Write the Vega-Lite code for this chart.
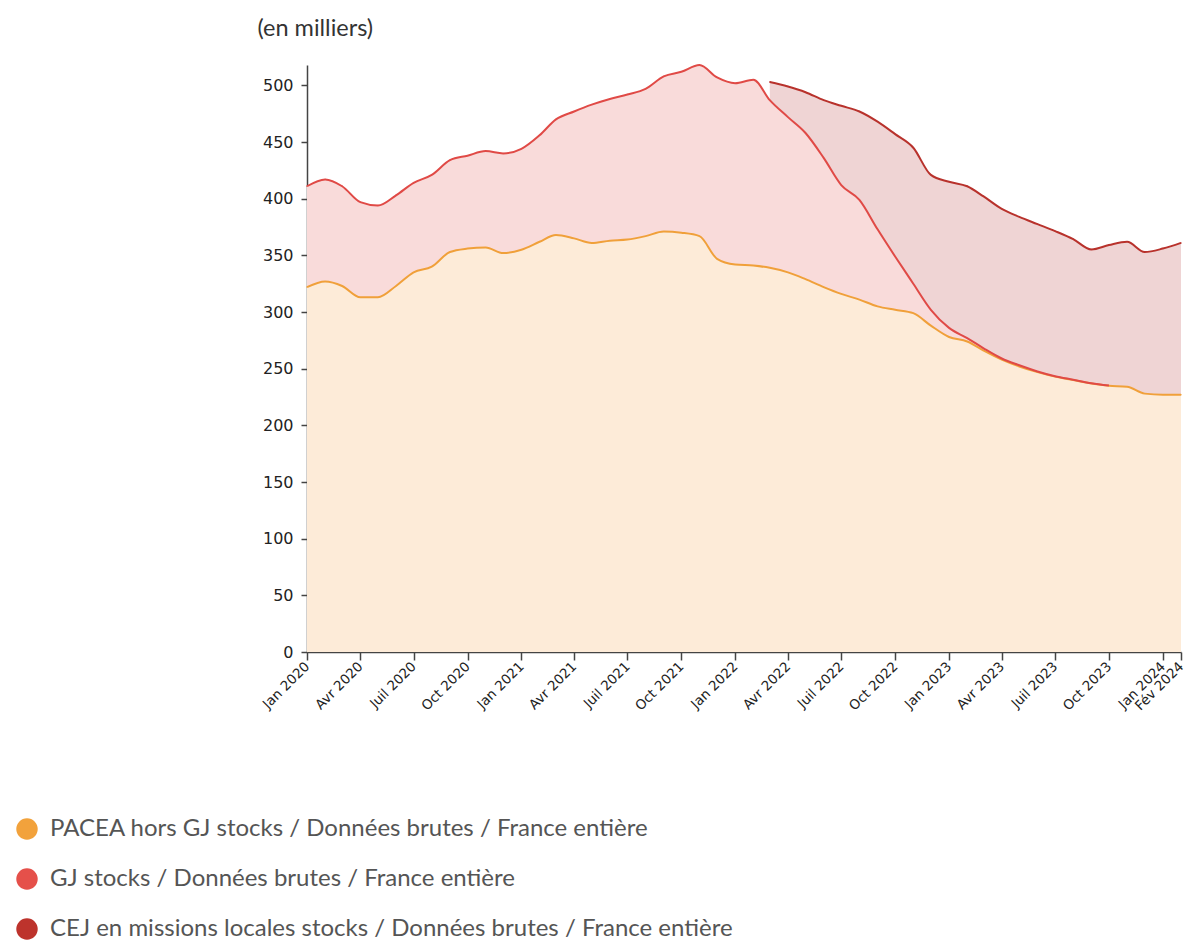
{
  "$schema": "https://vega.github.io/schema/vega-lite/v6.json",
  "width": 874,
  "height": 587,
  "autosize": "none",
  "padding": {"left": 307, "top": 65, "right": 7, "bottom": 291},
  "background": "white",
  "data": {"values": [
    {"mois": "2020-01", "serie": "PACEA hors GJ stocks / Données brutes / France entière", "valeur": 322},
    {"mois": "2020-02", "serie": "PACEA hors GJ stocks / Données brutes / France entière", "valeur": 327},
    {"mois": "2020-03", "serie": "PACEA hors GJ stocks / Données brutes / France entière", "valeur": 323},
    {"mois": "2020-04", "serie": "PACEA hors GJ stocks / Données brutes / France entière", "valeur": 313},
    {"mois": "2020-05", "serie": "PACEA hors GJ stocks / Données brutes / France entière", "valeur": 313},
    {"mois": "2020-06", "serie": "PACEA hors GJ stocks / Données brutes / France entière", "valeur": 323},
    {"mois": "2020-07", "serie": "PACEA hors GJ stocks / Données brutes / France entière", "valeur": 335},
    {"mois": "2020-08", "serie": "PACEA hors GJ stocks / Données brutes / France entière", "valeur": 340},
    {"mois": "2020-09", "serie": "PACEA hors GJ stocks / Données brutes / France entière", "valeur": 353},
    {"mois": "2020-10", "serie": "PACEA hors GJ stocks / Données brutes / France entière", "valeur": 356},
    {"mois": "2020-11", "serie": "PACEA hors GJ stocks / Données brutes / France entière", "valeur": 357},
    {"mois": "2020-12", "serie": "PACEA hors GJ stocks / Données brutes / France entière", "valeur": 352},
    {"mois": "2021-01", "serie": "PACEA hors GJ stocks / Données brutes / France entière", "valeur": 355},
    {"mois": "2021-02", "serie": "PACEA hors GJ stocks / Données brutes / France entière", "valeur": 362},
    {"mois": "2021-03", "serie": "PACEA hors GJ stocks / Données brutes / France entière", "valeur": 368},
    {"mois": "2021-04", "serie": "PACEA hors GJ stocks / Données brutes / France entière", "valeur": 365},
    {"mois": "2021-05", "serie": "PACEA hors GJ stocks / Données brutes / France entière", "valeur": 361},
    {"mois": "2021-06", "serie": "PACEA hors GJ stocks / Données brutes / France entière", "valeur": 363},
    {"mois": "2021-07", "serie": "PACEA hors GJ stocks / Données brutes / France entière", "valeur": 364},
    {"mois": "2021-08", "serie": "PACEA hors GJ stocks / Données brutes / France entière", "valeur": 367},
    {"mois": "2021-09", "serie": "PACEA hors GJ stocks / Données brutes / France entière", "valeur": 371},
    {"mois": "2021-10", "serie": "PACEA hors GJ stocks / Données brutes / France entière", "valeur": 370},
    {"mois": "2021-11", "serie": "PACEA hors GJ stocks / Données brutes / France entière", "valeur": 367},
    {"mois": "2021-12", "serie": "PACEA hors GJ stocks / Données brutes / France entière", "valeur": 347},
    {"mois": "2022-01", "serie": "PACEA hors GJ stocks / Données brutes / France entière", "valeur": 342},
    {"mois": "2022-02", "serie": "PACEA hors GJ stocks / Données brutes / France entière", "valeur": 341},
    {"mois": "2022-03", "serie": "PACEA hors GJ stocks / Données brutes / France entière", "valeur": 339},
    {"mois": "2022-04", "serie": "PACEA hors GJ stocks / Données brutes / France entière", "valeur": 335},
    {"mois": "2022-05", "serie": "PACEA hors GJ stocks / Données brutes / France entière", "valeur": 329},
    {"mois": "2022-06", "serie": "PACEA hors GJ stocks / Données brutes / France entière", "valeur": 322},
    {"mois": "2022-07", "serie": "PACEA hors GJ stocks / Données brutes / France entière", "valeur": 316},
    {"mois": "2022-08", "serie": "PACEA hors GJ stocks / Données brutes / France entière", "valeur": 311},
    {"mois": "2022-09", "serie": "PACEA hors GJ stocks / Données brutes / France entière", "valeur": 305},
    {"mois": "2022-10", "serie": "PACEA hors GJ stocks / Données brutes / France entière", "valeur": 302},
    {"mois": "2022-11", "serie": "PACEA hors GJ stocks / Données brutes / France entière", "valeur": 299},
    {"mois": "2022-12", "serie": "PACEA hors GJ stocks / Données brutes / France entière", "valeur": 288},
    {"mois": "2023-01", "serie": "PACEA hors GJ stocks / Données brutes / France entière", "valeur": 278},
    {"mois": "2023-02", "serie": "PACEA hors GJ stocks / Données brutes / France entière", "valeur": 274},
    {"mois": "2023-03", "serie": "PACEA hors GJ stocks / Données brutes / France entière", "valeur": 266},
    {"mois": "2023-04", "serie": "PACEA hors GJ stocks / Données brutes / France entière", "valeur": 258},
    {"mois": "2023-05", "serie": "PACEA hors GJ stocks / Données brutes / France entière", "valeur": 252},
    {"mois": "2023-06", "serie": "PACEA hors GJ stocks / Données brutes / France entière", "valeur": 247},
    {"mois": "2023-07", "serie": "PACEA hors GJ stocks / Données brutes / France entière", "valeur": 243},
    {"mois": "2023-08", "serie": "PACEA hors GJ stocks / Données brutes / France entière", "valeur": 240},
    {"mois": "2023-09", "serie": "PACEA hors GJ stocks / Données brutes / France entière", "valeur": 237},
    {"mois": "2023-10", "serie": "PACEA hors GJ stocks / Données brutes / France entière", "valeur": 235},
    {"mois": "2023-11", "serie": "PACEA hors GJ stocks / Données brutes / France entière", "valeur": 234},
    {"mois": "2023-12", "serie": "PACEA hors GJ stocks / Données brutes / France entière", "valeur": 228},
    {"mois": "2024-01", "serie": "PACEA hors GJ stocks / Données brutes / France entière", "valeur": 227},
    {"mois": "2024-02", "serie": "PACEA hors GJ stocks / Données brutes / France entière", "valeur": 227},
    {"mois": "2020-01", "serie": "GJ stocks / Données brutes / France entière", "valeur": 89},
    {"mois": "2020-02", "serie": "GJ stocks / Données brutes / France entière", "valeur": 90},
    {"mois": "2020-03", "serie": "GJ stocks / Données brutes / France entière", "valeur": 88},
    {"mois": "2020-04", "serie": "GJ stocks / Données brutes / France entière", "valeur": 84},
    {"mois": "2020-05", "serie": "GJ stocks / Données brutes / France entière", "valeur": 81},
    {"mois": "2020-06", "serie": "GJ stocks / Données brutes / France entière", "valeur": 80},
    {"mois": "2020-07", "serie": "GJ stocks / Données brutes / France entière", "valeur": 79},
    {"mois": "2020-08", "serie": "GJ stocks / Données brutes / France entière", "valeur": 81},
    {"mois": "2020-09", "serie": "GJ stocks / Données brutes / France entière", "valeur": 81},
    {"mois": "2020-10", "serie": "GJ stocks / Données brutes / France entière", "valeur": 82},
    {"mois": "2020-11", "serie": "GJ stocks / Données brutes / France entière", "valeur": 85},
    {"mois": "2020-12", "serie": "GJ stocks / Données brutes / France entière", "valeur": 88},
    {"mois": "2021-01", "serie": "GJ stocks / Données brutes / France entière", "valeur": 89},
    {"mois": "2021-02", "serie": "GJ stocks / Données brutes / France entière", "valeur": 94},
    {"mois": "2021-03", "serie": "GJ stocks / Données brutes / France entière", "valeur": 102},
    {"mois": "2021-04", "serie": "GJ stocks / Données brutes / France entière", "valeur": 112},
    {"mois": "2021-05", "serie": "GJ stocks / Données brutes / France entière", "valeur": 122},
    {"mois": "2021-06", "serie": "GJ stocks / Données brutes / France entière", "valeur": 125},
    {"mois": "2021-07", "serie": "GJ stocks / Données brutes / France entière", "valeur": 128},
    {"mois": "2021-08", "serie": "GJ stocks / Données brutes / France entière", "valeur": 130},
    {"mois": "2021-09", "serie": "GJ stocks / Données brutes / France entière", "valeur": 137},
    {"mois": "2021-10", "serie": "GJ stocks / Données brutes / France entière", "valeur": 142},
    {"mois": "2021-11", "serie": "GJ stocks / Données brutes / France entière", "valeur": 151},
    {"mois": "2021-12", "serie": "GJ stocks / Données brutes / France entière", "valeur": 160},
    {"mois": "2022-01", "serie": "GJ stocks / Données brutes / France entière", "valeur": 160},
    {"mois": "2022-02", "serie": "GJ stocks / Données brutes / France entière", "valeur": 164},
    {"mois": "2022-03", "serie": "GJ stocks / Données brutes / France entière", "valeur": 148},
    {"mois": "2022-04", "serie": "GJ stocks / Données brutes / France entière", "valeur": 137},
    {"mois": "2022-05", "serie": "GJ stocks / Données brutes / France entière", "valeur": 129},
    {"mois": "2022-06", "serie": "GJ stocks / Données brutes / France entière", "valeur": 114},
    {"mois": "2022-07", "serie": "GJ stocks / Données brutes / France entière", "valeur": 96},
    {"mois": "2022-08", "serie": "GJ stocks / Données brutes / France entière", "valeur": 88},
    {"mois": "2022-09", "serie": "GJ stocks / Données brutes / France entière", "valeur": 68},
    {"mois": "2022-10", "serie": "GJ stocks / Données brutes / France entière", "valeur": 47},
    {"mois": "2022-11", "serie": "GJ stocks / Données brutes / France entière", "valeur": 26},
    {"mois": "2022-12", "serie": "GJ stocks / Données brutes / France entière", "valeur": 14},
    {"mois": "2023-01", "serie": "GJ stocks / Données brutes / France entière", "valeur": 8},
    {"mois": "2023-02", "serie": "GJ stocks / Données brutes / France entière", "valeur": 3},
    {"mois": "2023-03", "serie": "GJ stocks / Données brutes / France entière", "valeur": 2},
    {"mois": "2023-04", "serie": "GJ stocks / Données brutes / France entière", "valeur": 1},
    {"mois": "2023-05", "serie": "GJ stocks / Données brutes / France entière", "valeur": 1},
    {"mois": "2023-06", "serie": "GJ stocks / Données brutes / France entière", "valeur": 0.6},
    {"mois": "2023-07", "serie": "GJ stocks / Données brutes / France entière", "valeur": 0.4},
    {"mois": "2023-08", "serie": "GJ stocks / Données brutes / France entière", "valeur": 0.3},
    {"mois": "2023-09", "serie": "GJ stocks / Données brutes / France entière", "valeur": 0.2},
    {"mois": "2023-10", "serie": "GJ stocks / Données brutes / France entière", "valeur": 0.1},
    {"mois": "2022-03", "serie": "CEJ en missions locales stocks / Données brutes / France entière", "valeur": 16},
    {"mois": "2022-04", "serie": "CEJ en missions locales stocks / Données brutes / France entière", "valeur": 27},
    {"mois": "2022-05", "serie": "CEJ en missions locales stocks / Données brutes / France entière", "valeur": 36},
    {"mois": "2022-06", "serie": "CEJ en missions locales stocks / Données brutes / France entière", "valeur": 51},
    {"mois": "2022-07", "serie": "CEJ en missions locales stocks / Données brutes / France entière", "valeur": 70},
    {"mois": "2022-08", "serie": "CEJ en missions locales stocks / Données brutes / France entière", "valeur": 78},
    {"mois": "2022-09", "serie": "CEJ en missions locales stocks / Données brutes / France entière", "valeur": 95},
    {"mois": "2022-10", "serie": "CEJ en missions locales stocks / Données brutes / France entière", "valeur": 108},
    {"mois": "2022-11", "serie": "CEJ en missions locales stocks / Données brutes / France entière", "valeur": 120},
    {"mois": "2022-12", "serie": "CEJ en missions locales stocks / Données brutes / France entière", "valeur": 119},
    {"mois": "2023-01", "serie": "CEJ en missions locales stocks / Données brutes / France entière", "valeur": 129},
    {"mois": "2023-02", "serie": "CEJ en missions locales stocks / Données brutes / France entière", "valeur": 134},
    {"mois": "2023-03", "serie": "CEJ en missions locales stocks / Données brutes / France entière", "valeur": 134},
    {"mois": "2023-04", "serie": "CEJ en missions locales stocks / Données brutes / France entière", "valeur": 132},
    {"mois": "2023-05", "serie": "CEJ en missions locales stocks / Données brutes / France entière", "valeur": 131},
    {"mois": "2023-06", "serie": "CEJ en missions locales stocks / Données brutes / France entière", "valeur": 130},
    {"mois": "2023-07", "serie": "CEJ en missions locales stocks / Données brutes / France entière", "valeur": 128},
    {"mois": "2023-08", "serie": "CEJ en missions locales stocks / Données brutes / France entière", "valeur": 124},
    {"mois": "2023-09", "serie": "CEJ en missions locales stocks / Données brutes / France entière", "valeur": 118},
    {"mois": "2023-10", "serie": "CEJ en missions locales stocks / Données brutes / France entière", "valeur": 124},
    {"mois": "2023-11", "serie": "CEJ en missions locales stocks / Données brutes / France entière", "valeur": 128},
    {"mois": "2023-12", "serie": "CEJ en missions locales stocks / Données brutes / France entière", "valeur": 125},
    {"mois": "2024-01", "serie": "CEJ en missions locales stocks / Données brutes / France entière", "valeur": 129},
    {"mois": "2024-02", "serie": "CEJ en missions locales stocks / Données brutes / France entière", "valeur": 134}
  ]},
  "transform": [
    {"stack": "valeur", "groupby": ["mois"], "sort": [{"field": "serie", "order": "descending"}], "as": ["bas", "haut"]}
  ],
  "encoding": {
    "x": {
      "field": "mois", "type": "temporal",
      "scale": {"type": "utc", "nice": false, "domain": [{"year": 2020, "month": 1, "date": 1, "utc": true}, {"year": 2024, "month": 2, "date": 1, "utc": true}]},
      "axis": {
        "title": null,
        "values": [
          {"year": 2020, "month": 1, "date": 1, "utc": true}, {"year": 2020, "month": 4, "date": 1, "utc": true},
          {"year": 2020, "month": 7, "date": 1, "utc": true}, {"year": 2020, "month": 10, "date": 1, "utc": true},
          {"year": 2021, "month": 1, "date": 1, "utc": true}, {"year": 2021, "month": 4, "date": 1, "utc": true},
          {"year": 2021, "month": 7, "date": 1, "utc": true}, {"year": 2021, "month": 10, "date": 1, "utc": true},
          {"year": 2022, "month": 1, "date": 1, "utc": true}, {"year": 2022, "month": 4, "date": 1, "utc": true},
          {"year": 2022, "month": 7, "date": 1, "utc": true}, {"year": 2022, "month": 10, "date": 1, "utc": true},
          {"year": 2023, "month": 1, "date": 1, "utc": true}, {"year": 2023, "month": 4, "date": 1, "utc": true},
          {"year": 2023, "month": 7, "date": 1, "utc": true}, {"year": 2023, "month": 10, "date": 1, "utc": true},
          {"year": 2024, "month": 1, "date": 1, "utc": true}, {"year": 2024, "month": 2, "date": 1, "utc": true}
        ],
        "labelExpr": "['Jan','Fév','Mars','Avr','Mai','Juin','Juil','Août','Sept','Oct','Nov','Déc'][utcmonth(datum.value)] + ' ' + utcyear(datum.value)",
        "labelAngle": -45,
        "labelAlign": "right",
        "labelBaseline": "middle",
        "labelFont": "DejaVu Sans",
        "labelFontSize": 13.5,
        "labelColor": "#222222",
        "labelPadding": 4,
        "labelOverlap": false,
        "labelBound": false,
        "labelFlush": false,
        "tickSize": 8,
        "tickColor": "#444444",
        "tickWidth": 1.5,
        "domainColor": "#444444",
        "domainWidth": 1.5,
        "grid": false
      }
    }
  },
  "layer": [
    {
      "mark": {"type": "circle", "size": 2, "opacity": 1},
      "encoding": {
        "y": {"field": "haut", "type": "quantitative", "stack": null},
        "color": {
          "field": "serie", "type": "nominal",
          "scale": {
            "domain": ["PACEA hors GJ stocks / Données brutes / France entière", "GJ stocks / Données brutes / France entière", "CEJ en missions locales stocks / Données brutes / France entière"],
            "range": ["#f2a23c", "#e5504a", "#bd332c"]
          },
          "legend": {
            "orient": "none",
            "legendX": -292,
            "legendY": 752,
            "direction": "vertical",
            "title": null,
            "symbolType": "circle",
            "symbolSize": 460,
            "symbolOpacity": 1,
            "symbolStrokeWidth": 0,
            "labelFont": "Lato",
            "labelFontSize": 24,
            "labelColor": "#555555",
            "labelOffset": 11,
            "labelLimit": 900,
            "rowPadding": 26,
            "padding": 0
          }
        }
      }
    },
    {
      "mark": {"type": "area", "interpolate": "monotone", "opacity": 1},
      "encoding": {
        "y": {
          "field": "haut", "type": "quantitative", "stack": null,
          "scale": {"domain": [0, 518], "nice": false, "zero": true},
          "axis": {
            "title": "(en milliers)",
            "titleAngle": 0,
            "titleAlign": "left",
            "titleBaseline": "middle",
            "titleX": -50,
            "titleY": -37,
            "titleFont": "Lato",
            "titleFontSize": 23.5,
            "titleFontWeight": "normal",
            "titleColor": "#333333",
            "values": [0, 50, 100, 150, 200, 250, 300, 350, 400, 450, 500],
            "labelFont": "DejaVu Sans",
            "labelFontSize": 16,
            "labelColor": "#222222",
            "labelPadding": 8,
            "tickSize": 6,
            "tickColor": "#444444",
            "tickWidth": 1.5,
            "domainColor": "#444444",
            "domainWidth": 1.5,
            "grid": false
          }
        },
        "y2": {"field": "bas"},
        "fill": {
          "field": "serie", "type": "nominal",
          "scale": {
            "domain": ["PACEA hors GJ stocks / Données brutes / France entière", "GJ stocks / Données brutes / France entière", "CEJ en missions locales stocks / Données brutes / France entière"],
            "range": ["#fdebd8", "#f9dbda", "#efd4d4"]
          },
          "legend": null
        }
      }
    },
    {
      "transform": [{"filter": "datum.serie == 'PACEA hors GJ stocks / Données brutes / France entière'"}],
      "mark": {"type": "line", "interpolate": "monotone", "stroke": "#f0a03a", "strokeWidth": 2},
      "encoding": {"y": {"field": "haut", "type": "quantitative", "stack": null}}
    },
    {
      "transform": [{"filter": "datum.serie == 'GJ stocks / Données brutes / France entière'"}],
      "mark": {"type": "line", "interpolate": "monotone", "stroke": "#e04a46", "strokeWidth": 2},
      "encoding": {"y": {"field": "haut", "type": "quantitative", "stack": null}}
    },
    {
      "transform": [{"filter": "datum.serie == 'CEJ en missions locales stocks / Données brutes / France entière'"}],
      "mark": {"type": "line", "interpolate": "monotone", "stroke": "#b8322c", "strokeWidth": 2},
      "encoding": {"y": {"field": "haut", "type": "quantitative", "stack": null}}
    }
  ],
  "config": {
    "view": {"stroke": null},
    "font": "Lato"
  }
}
